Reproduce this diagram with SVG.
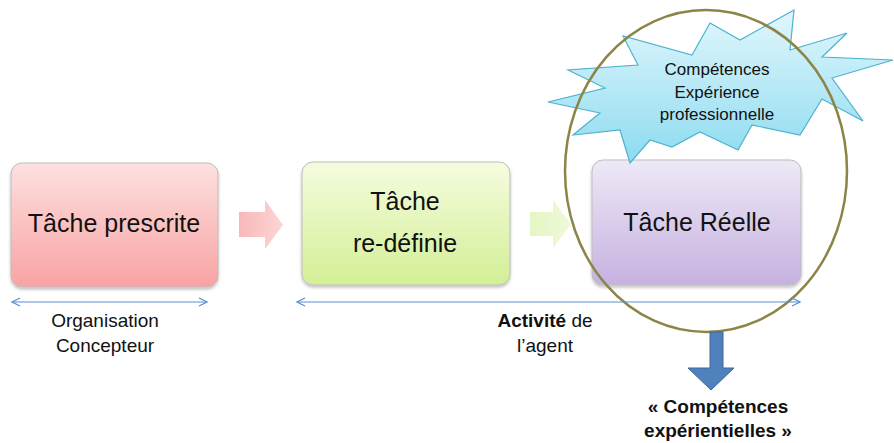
<svg xmlns="http://www.w3.org/2000/svg" width="894" height="443" viewBox="0 0 894 443">
<style>
text{font-family:"Liberation Sans",Arial,sans-serif;fill:#111;text-anchor:middle}
.big{font-size:25px}
.mid{font-size:19px}
.sm{font-size:17px}
.b{font-weight:bold}
.box{stroke:#bdbdbd;stroke-width:1}
.hl{stroke:#5b8fd0;stroke-width:1.2;fill:none}
</style>
<defs>
<linearGradient id="gRed" x1="0" y1="0" x2="0" y2="1"><stop offset="0" stop-color="#fde0e0"/><stop offset="1" stop-color="#f9a3a3"/></linearGradient>
<linearGradient id="gGreen" x1="0" y1="0" x2="0" y2="1"><stop offset="0" stop-color="#f5fcdf"/><stop offset="1" stop-color="#d3ef96"/></linearGradient>
<linearGradient id="gPurple" x1="0" y1="0" x2="0" y2="1"><stop offset="0" stop-color="#eee9f7"/><stop offset="1" stop-color="#c6b1e0"/></linearGradient>
<linearGradient id="gCyan" x1="0" y1="0" x2="0" y2="1"><stop offset="0" stop-color="#e2f7fc"/><stop offset="1" stop-color="#8ddbf0"/></linearGradient>
<linearGradient id="gArR" x1="0" y1="0" x2="1" y2="0"><stop offset="0" stop-color="#f9b8b8"/><stop offset="1" stop-color="#fcd6d6"/></linearGradient>
<linearGradient id="gArG" x1="0" y1="0" x2="1" y2="0"><stop offset="0" stop-color="#e4f6c4"/><stop offset="1" stop-color="#eefad9"/></linearGradient>
<filter id="sh" x="-10%" y="-10%" width="120%" height="130%"><feDropShadow dx="0" dy="2" stdDeviation="1.5" flood-color="#000" flood-opacity="0.25"/></filter>
<marker id="oa" viewBox="0 0 10 10" refX="9" refY="5" markerWidth="10" markerHeight="10" markerUnits="userSpaceOnUse" orient="auto-start-reverse"><path d="M1,1 L9,5 L1,9" fill="none" stroke="#5b8fd0" stroke-width="1.2"/></marker>
</defs>

<g id="node-prescrite">
<rect class="box" x="11" y="163" width="207" height="124" rx="11" fill="url(#gRed)" filter="url(#sh)"/>
<text class="big" x="114" y="232">Tâche prescrite</text>
</g>

<g id="node-redefinie">
<rect class="box" x="302" y="162" width="208" height="123" rx="11" fill="url(#gGreen)" filter="url(#sh)"/>
<text class="big" x="405" y="210">Tâche</text>
<text class="big" x="405" y="252">re-définie</text>
</g>

<g id="node-reelle">
<rect class="box" x="592" y="160" width="209" height="125" rx="11" fill="url(#gPurple)" filter="url(#sh)"/>
<text class="big" x="697" y="231">Tâche Réelle</text>
</g>

<g id="node-competences">
<polygon points="710,23 740,40 794,10 790,50 847,33 822,57 893,60 832,78 863,121 822,99 800,135 752,125 738,150 700,132 672,147 650,140 630,163 620,130 573,135 600,113 548,102 605,88 568,70 638,65 623,36 692,55" fill="url(#gCyan)" stroke="#4cb3d0" stroke-width="1.2" stroke-linejoin="miter"/>
<text class="sm" x="717" y="75">Compétences</text>
<text class="sm" x="717" y="98">Expérience</text>
<text class="sm" x="717" y="120">professionnelle</text>
</g>

<g id="node-cercle">
<ellipse cx="706" cy="171" rx="141" ry="161" fill="none" stroke="#8d8447" stroke-width="2.5"/>
</g>

<g id="connectors">
<path d="M239,212 H265 V200 L283,225 L265,249 V237 H239 Z" fill="url(#gArR)"/>
<path d="M530,212 H553 V200 L571,224 L553,248 V236 H530 Z" fill="url(#gArG)"/>
<line class="hl" x1="12" y1="302" x2="207" y2="302" marker-start="url(#oa)" marker-end="url(#oa)"/>
<line class="hl" x1="297" y1="302" x2="800" y2="302" marker-start="url(#oa)" marker-end="url(#oa)"/>
<path d="M710,332 H723 V368 H734 L711,390 L688,368 H710 Z" fill="#4f81bd" stroke="#3c679c" stroke-width="1"/>
</g>

<g id="labels">
<text class="mid" x="105" y="327">Organisation</text>
<text class="mid" x="105" y="352">Concepteur</text>
<text class="mid" x="545" y="327"><tspan class="b">Activité</tspan> de</text>
<text class="mid" x="545" y="352">l’agent</text>
<text class="mid b" x="718" y="413">« Compétences</text>
<text class="mid b" x="718" y="437">expérientielles »</text>
</g>
</svg>
